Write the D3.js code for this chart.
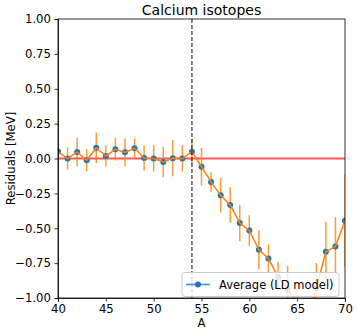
<!DOCTYPE html>
<html>
<head>
<meta charset="utf-8">
<script src="https://d3js.org/d3.v7.min.js"></script>
<style>
  body { margin: 0; background: white; }
  text { font-family: "DejaVu Sans", sans-serif; fill: black; }
  .axis path, .axis line { stroke: black; stroke-width: 0.8; }
  .axis text { font-size: 11.7px; }
</style>
</head>
<body>
<svg id="chart" width="357" height="333"></svg>
<script>
  const massNumbers = d3.range(40, 71);
  const residuals = [
    0.05, 0.0, 0.047, -0.013, 0.077, 0.018, 0.066, 0.044, 0.073, 0.004,
    0.0, -0.025, 0.002, 0.0, 0.049, -0.059, -0.168, -0.264, -0.333, -0.462,
    -0.517, -0.654, -0.716, -0.85, -0.94, -1.03, -1.2, -0.93, -0.668, -0.63,
    -0.446
  ];
  const errors = [
    0.07, 0.08, 0.1, 0.08, 0.11, 0.075, 0.08, 0.1, 0.07, 0.09,
    0.095, 0.11, 0.13, 0.095, 0.09, 0.135, 0.07, 0.125, 0.127, 0.13,
    0.11, 0.14, 0.1, 0.11, 0.17, 0.1, 0.15, 0.18, 0.215, 0.21,
    0.33
  ];
  const xTicks = [40, 45, 50, 55, 60, 65, 70];
  const yTicks = [-1.0, -0.75, -0.5, -0.25, 0.0, 0.25, 0.5, 0.75, 1.0];
  const shellClosure = 54;
  const seriesName = "Average (LD model)";

  const data = massNumbers.map((a, i) => ({ a: a, r: residuals[i], e: errors[i] }));

  const svg = d3.select("#chart");
  const margin = { top: 19, right: 12, bottom: 35, left: 58 };
  const width = +svg.attr("width");
  const height = +svg.attr("height");

  const x = d3.scaleLinear()
    .domain([40, 70])
    .range([margin.left, width - margin.right]);
  const y = d3.scaleLinear()
    .domain([-1, 1])
    .range([height - margin.bottom, margin.top]);

  const blue = "#1f77b4";
  const orange = "#ff7f0e";

  svg.append("defs").append("clipPath")
    .attr("id", "clip")
    .append("rect")
    .attr("x", margin.left)
    .attr("y", margin.top)
    .attr("width", width - margin.left - margin.right)
    .attr("height", height - margin.top - margin.bottom);

  const plot = svg.append("g").attr("clip-path", "url(#clip)");

  // zero line
  plot.append("line")
    .attr("x1", x(40)).attr("x2", x(70))
    .attr("y1", y(0)).attr("y2", y(0))
    .attr("stroke", "#ff3b3b")
    .attr("stroke-opacity", 0.85)
    .attr("stroke-width", 1.8);

  // error bars
  plot.selectAll(".err")
    .data(data)
    .enter().append("line")
      .attr("class", "err")
      .attr("x1", d => x(d.a)).attr("x2", d => x(d.a))
      .attr("y1", d => y(d.r - d.e)).attr("y2", d => y(d.r + d.e))
      .attr("stroke", orange)
      .attr("stroke-opacity", 0.8)
      .attr("stroke-width", 1.5);

  // markers
  plot.selectAll(".dot")
    .data(data)
    .enter().append("circle")
      .attr("class", "dot")
      .attr("cx", d => x(d.a))
      .attr("cy", d => y(d.r))
      .attr("r", 3)
      .attr("fill", blue);

  const line = d3.line()
    .x(d => x(d.a))
    .y(d => y(d.r));

  plot.append("path")
    .datum(data)
    .attr("d", line)
    .attr("fill", "none")
    .attr("stroke", orange)
    .attr("stroke-width", 1.5);

  // N = 28 marker line
  plot.append("line")
    .attr("x1", x(shellClosure)).attr("x2", x(shellClosure))
    .attr("y1", y(1)).attr("y2", y(-1))
    .attr("stroke", "#222")
    .attr("stroke-opacity", 0.8)
    .attr("stroke-width", 1.4)
    .attr("stroke-dasharray", "4,2");

  // axes
  svg.append("g")
    .attr("class", "axis")
    .attr("transform", `translate(0,${height - margin.bottom})`)
    .call(d3.axisBottom(x).tickValues(xTicks).tickFormat(d3.format("d")).tickSize(3.5).tickPadding(3.5));

  svg.append("g")
    .attr("class", "axis")
    .attr("transform", `translate(${margin.left},0)`)
    .call(d3.axisLeft(y).tickValues(yTicks).tickFormat(d => d3.format(".2f")(d).replace("-", "\u2212")).tickSize(3.5).tickPadding(3.5));

  // frame
  svg.append("rect")
    .attr("x", margin.left)
    .attr("y", margin.top)
    .attr("width", width - margin.left - margin.right)
    .attr("height", height - margin.top - margin.bottom)
    .attr("fill", "none")
    .attr("stroke", "black")
    .attr("stroke-width", 0.8);

  // title and labels
  svg.append("text")
    .attr("x", (margin.left + width - margin.right) / 2)
    .attr("y", 15)
    .attr("text-anchor", "middle")
    .style("font-size", "14px")
    .text("Calcium isotopes");

  svg.append("text")
    .attr("x", (margin.left + width - margin.right) / 2)
    .attr("y", 327)
    .attr("text-anchor", "middle")
    .style("font-size", "11.7px")
    .text("A");

  svg.append("text")
    .attr("transform", `translate(15,${(margin.top + height - margin.bottom) / 2}) rotate(-90)`)
    .attr("text-anchor", "middle")
    .style("font-size", "11.7px")
    .text("Residuals [MeV]");

  // legend
  const legend = svg.append("g").attr("transform", "translate(182,272.5)");
  legend.append("rect")
    .attr("width", 157)
    .attr("height", 24)
    .attr("rx", 3)
    .attr("fill", "white")
    .attr("fill-opacity", 0.8)
    .attr("stroke", "#cccccc")
    .attr("stroke-width", 1);
  legend.append("line")
    .attr("x1", 4).attr("x2", 28)
    .attr("y1", 12).attr("y2", 12)
    .attr("stroke", blue)
    .attr("stroke-opacity", 0.75)
    .attr("stroke-width", 1.8);
  legend.append("circle")
    .attr("cx", 16).attr("cy", 12).attr("r", 3)
    .attr("fill", blue);
  legend.append("text")
    .attr("x", 37)
    .attr("y", 16)
    .style("font-size", "11.5px")
    .text(seriesName);
</script>
</body>
</html>
